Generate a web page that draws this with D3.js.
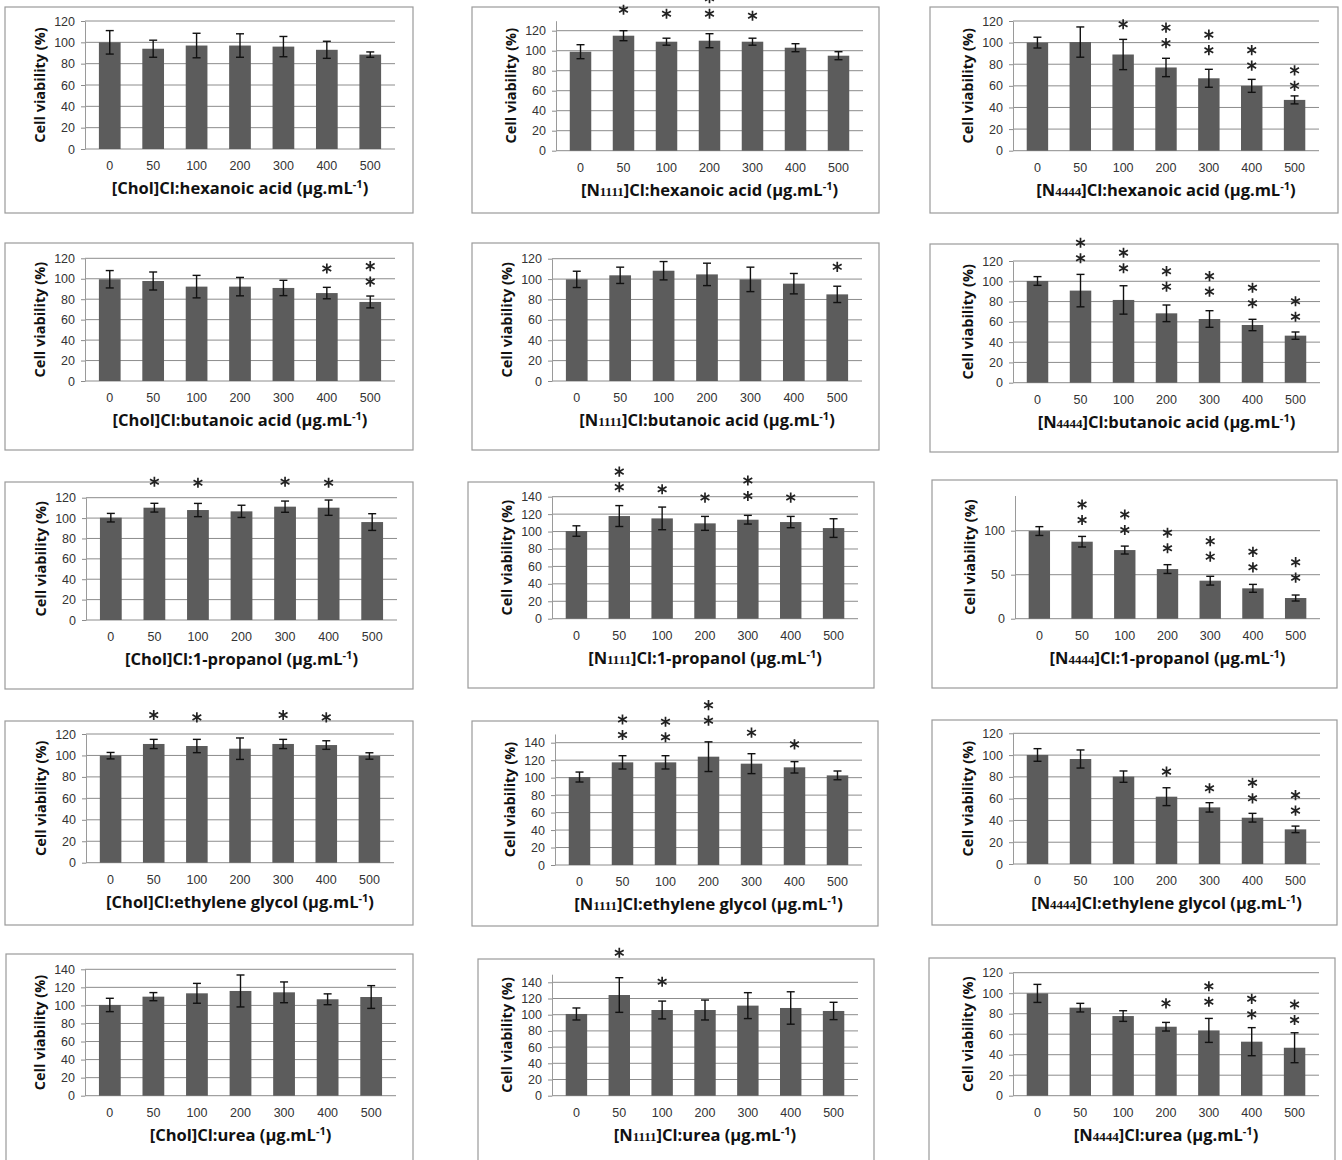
<!DOCTYPE html>
<html>
<head>
<meta charset="utf-8">
<script src="https://cdn.jsdelivr.net/npm/d3@7"></script>
<style>
  body { margin: 0; background: #fff; }
  svg { display: block; font-family: "Open Sans", "DejaVu Sans", sans-serif; }
  .tick text { font-size: 12.5px; fill: #333; }
  .xtitle, .ytitle { font-size: 16.5px; font-weight: 700; fill: #111; }
  .ytitle { font-size: 14.5px; }
  .num { font-family: "Liberation Serif", "DejaVu Serif", serif; font-size: 13px; font-weight: 700; }
  .sup { font-size: 11px; }
</style>
</head>
<body>
<svg id="chart" width="1342" height="1160"></svg>
<script>
// Concentrations tested (µg/mL)
const doses = ["0", "50", "100", "200", "300", "400", "500"];
const cations = ["Chol", "N1111", "N4444"];
const donors = ["hexanoic acid", "butanoic acid", "1-propanol", "ethylene glycol", "urea"];

// Cell viability (%) mean, standard deviation and significance marks
// Stars: [dose, number of asterisks, level of the lowest asterisk in %]
const cholHexanoicMean = [100, 94, 97, 97, 96, 93, 88.5];
const cholHexanoicSd = [11, 8, 11.5, 11, 9.5, 8, 2.5];
const cholHexanoicStars = [];

const n1111HexanoicMean = [99, 115, 109, 110, 109, 103, 95];
const n1111HexanoicSd = [7, 5, 3.5, 7, 3.5, 4, 4];
const n1111HexanoicStars = [["50", 1, 141], ["100", 1, 137], ["200", 2, 137], ["300", 1, 135]];

const n4444HexanoicMean = [100, 100.5, 89, 77, 67, 60, 47];
const n4444HexanoicSd = [5, 14, 14, 8.5, 8.3, 6, 3.7];
const n4444HexanoicStars = [["100", 1, 117], ["200", 2, 99.5], ["300", 2, 93], ["400", 2, 78.7], ["500", 2, 60]];

const cholButanoicMean = [99.5, 97.8, 92.3, 92.3, 91, 86, 77.3];
const cholButanoicSd = [8.5, 8.8, 11, 9, 7.5, 5.6, 5.8];
const cholButanoicStars = [["400", 1, 110], ["500", 2, 97.2]];

const n1111ButanoicMean = [99.7, 103.7, 108.2, 104.6, 99.7, 95.5, 85];
const n1111ButanoicSd = [8, 8, 9, 11, 12, 10, 8];
const n1111ButanoicStars = [["500", 1, 112]];

const n4444ButanoicMean = [100.3, 90.8, 81.6, 68.4, 62.8, 56.9, 46.4];
const n4444ButanoicSd = [4.3, 16, 14, 8.2, 8.2, 5.6, 3.6];
const n4444ButanoicStars = [["50", 2, 122.7], ["100", 2, 112.8], ["200", 2, 94.7], ["300", 2, 89.8], ["400", 2, 78.3], ["500", 2, 65]];

const cholPropanolMean = [100.4, 110.2, 107.9, 106.6, 111.2, 110.2, 96.1];
const cholPropanolSd = [4.2, 4.3, 6.5, 6, 5.5, 7.5, 8.2];
const cholPropanolStars = [["50", 1, 135.7], ["100", 1, 134.7], ["300", 1, 135.7], ["400", 1, 134.7]];

const n1111PropanolMean = [100.6, 117.8, 115.1, 109.4, 113.6, 110.9, 104];
const n1111PropanolSd = [6, 12, 13, 8, 5, 6.5, 10.7];
const n1111PropanolStars = [["50", 2, 151], ["100", 1, 148.5], ["200", 1, 139], ["300", 2, 140.8], ["400", 1, 139]];

const n4444PropanolMean = [99.6, 87.5, 78, 56.4, 43.2, 34.5, 23.5];
const n4444PropanolSd = [5, 6, 4.5, 5, 5, 4.5, 3.4];
const n4444PropanolStars = [["50", 2, 112.2], ["100", 2, 100.8], ["200", 2, 80], ["300", 2, 70.5], ["400", 2, 58.4], ["500", 2, 46.6]];

const cholGlycolMean = [99.8, 110.7, 108.8, 106.3, 110.7, 109.7, 99.5];
const cholGlycolSd = [3, 4.3, 6.2, 10, 4.3, 4, 3];
const cholGlycolStars = [["50", 1, 137.7], ["100", 1, 135.5], ["300", 1, 137.7], ["400", 1, 135.5]];

const n1111GlycolMean = [100.7, 117.5, 117.5, 124, 116, 111.8, 102.6];
const n1111GlycolSd = [5.7, 7.6, 7.6, 17, 11.4, 6.5, 5];
const n1111GlycolStars = [["50", 2, 148.8], ["100", 2, 146.2], ["200", 2, 165.2], ["300", 1, 151.5], ["400", 1, 138.1]];

const n4444GlycolMean = [100.1, 96.4, 80.2, 61.8, 52, 42.5, 31.8];
const n4444GlycolSd = [5.8, 8.3, 5.2, 8.2, 4.3, 4, 3];
const n4444GlycolStars = [["200", 1, 84.8], ["300", 1, 69.5], ["400", 2, 60.3], ["500", 2, 49]];

const cholUreaMean = [100.5, 109.7, 113.4, 116, 114.5, 106.8, 109.3];
const cholUreaSd = [7.4, 4.5, 11, 17.7, 11.5, 6, 12.6];
const cholUreaStars = [];

const n1111UreaMean = [100.9, 124.3, 105.8, 105.8, 111.2, 108.3, 104.6];
const n1111UreaSd = [7.4, 21.4, 11, 12.3, 16, 20, 10.7];
const n1111UreaStars = [["50", 1, 176.5], ["100", 1, 140.7]];

const n4444UreaMean = [99.8, 85.9, 77.7, 67.3, 63.7, 52.7, 46.8];
const n4444UreaSd = [8.8, 4.2, 5.2, 4.2, 11.7, 13.7, 14.6];
const n4444UreaStars = [["200", 1, 90.1], ["300", 2, 91.7], ["400", 2, 79.4], ["500", 2, 73.9]];

// Axis ranges per panel: [axis maximum, tick step]
const axisRanges = [
  [120, 20], [130, 20], [120, 20],
  [120, 20], [120, 20], [120, 20],
  [120, 20], [140, 20], [140, 50],
  [120, 20], [150, 20], [120, 20],
  [140, 20], [150, 20], [120, 20]
];

// Panel table, row by row (donor) and column by column (cation)
const series = [
  [cholHexanoicMean, cholHexanoicSd, cholHexanoicStars],
  [n1111HexanoicMean, n1111HexanoicSd, n1111HexanoicStars],
  [n4444HexanoicMean, n4444HexanoicSd, n4444HexanoicStars],
  [cholButanoicMean, cholButanoicSd, cholButanoicStars],
  [n1111ButanoicMean, n1111ButanoicSd, n1111ButanoicStars],
  [n4444ButanoicMean, n4444ButanoicSd, n4444ButanoicStars],
  [cholPropanolMean, cholPropanolSd, cholPropanolStars],
  [n1111PropanolMean, n1111PropanolSd, n1111PropanolStars],
  [n4444PropanolMean, n4444PropanolSd, n4444PropanolStars],
  [cholGlycolMean, cholGlycolSd, cholGlycolStars],
  [n1111GlycolMean, n1111GlycolSd, n1111GlycolStars],
  [n4444GlycolMean, n4444GlycolSd, n4444GlycolStars],
  [cholUreaMean, cholUreaSd, cholUreaStars],
  [n1111UreaMean, n1111UreaSd, n1111UreaStars],
  [n4444UreaMean, n4444UreaSd, n4444UreaStars]
];

// Frame geometry of each panel: outer box, plot left/right, baseline y, pixels per %
const frames = [
  { box: [5, 7, 413, 213],      left: 85,   right: 395,  base: 149,    ppu: 128 / 120 },
  { box: [472, 7, 879, 213],    left: 556,  right: 863,  base: 150.7,  ppu: 120 / 120 },
  { box: [930, 7, 1338, 213],   left: 1013, right: 1319, base: 150.7,  ppu: 129.7 / 120 },
  { box: [5, 243, 413, 450],    left: 85,   right: 395,  base: 381,    ppu: 122.7 / 120 },
  { box: [472, 243, 879, 450],  left: 552,  right: 862,  base: 381,    ppu: 122.3 / 120 },
  { box: [930, 244, 1338, 452], left: 1013, right: 1320, base: 382.7,  ppu: 121.7 / 120 },
  { box: [5, 482, 413, 689],    left: 86,   right: 397,  base: 620,    ppu: 122.3 / 120 },
  { box: [468, 482, 874, 688],  left: 552,  right: 858,  base: 618.7,  ppu: 122 / 140 },
  { box: [932, 480, 1337, 688], left: 1015, right: 1320, base: 618.7,  ppu: 88 / 100 },
  { box: [5, 721, 413, 925],    left: 86,   right: 394,  base: 862.7,  ppu: 128.7 / 120 },
  { box: [472, 721, 878, 926],  left: 555,  right: 862,  base: 865,    ppu: 122.3 / 140 },
  { box: [932, 720, 1337, 925], left: 1013, right: 1320, base: 864,    ppu: 130.7 / 120 },
  { box: [6, 954, 413, 1175],   left: 85,   right: 396,  base: 1095.7, ppu: 126.4 / 140 },
  { box: [478, 959, 874, 1175], left: 552,  right: 858,  base: 1095.7, ppu: 113.4 / 140 },
  { box: [929, 958, 1335, 1175],left: 1013, right: 1319, base: 1095.7, ppu: 123 / 120 }
];

const svg = d3.select("#chart");
const starShape = d3.symbol().type(d3.symbolAsterisk).size(72);
const starGap = 15.5;

function drawTitle(g, cation, donor, cx, y) {
  const t = g.append("text").attr("class", "xtitle")
    .attr("x", cx).attr("y", y).attr("text-anchor", "middle");
  if (cation === "Chol") {
    t.append("tspan").text("[Chol]");
  } else {
    t.append("tspan").text("[N");
    t.append("tspan").attr("class", "num").text(cation.slice(1));
    t.append("tspan").text("]");
  }
  t.append("tspan").text("Cl:" + donor + " (\u00b5g.mL");
  t.append("tspan").attr("class", "sup").attr("dy", -6).text("-1");
  t.append("tspan").attr("dy", 6).text(")");
}

series.forEach(([mean, sd, stars], i) => {
  const f = frames[i];
  const [axisMax, step] = axisRanges[i];
  const cation = cations[i % 3];
  const donor = donors[Math.floor(i / 3)];
  const g = svg.append("g");

  // outer frame
  g.append("rect")
    .attr("x", f.box[0]).attr("y", f.box[1])
    .attr("width", f.box[2] - f.box[0]).attr("height", f.box[3] - f.box[1])
    .attr("fill", "#fff").attr("stroke", "#9a9a9a").attr("stroke-width", 1.2);

  const y = d3.scaleLinear().domain([0, axisMax]).range([f.base, f.base - axisMax * f.ppu]);
  const x = d3.scaleBand().domain(doses).range([f.left, f.right]).paddingInner(0.5).paddingOuter(0.32);
  const ticks = d3.range(0, axisMax + 1e-6, step);

  // horizontal gridlines
  g.append("g").selectAll("line").data(ticks).join("line")
    .attr("x1", f.left).attr("x2", f.right)
    .attr("y1", d => y(d)).attr("y2", d => y(d))
    .attr("stroke", "#8c8c8c").attr("stroke-width", 1);

  // y axis
  const ya = g.append("g").attr("transform", `translate(${f.left},0)`)
    .call(d3.axisLeft(y).tickValues(ticks).tickSize(4).tickSizeOuter(0).tickPadding(6));
  ya.select(".domain").attr("stroke", "#9a9a9a");
  ya.selectAll(".tick line").attr("stroke", "#8c8c8c");

  // x axis labels
  const xa = g.append("g").attr("transform", `translate(0,${f.base})`)
    .call(d3.axisBottom(x).tickSize(0).tickPadding(12));
  xa.select(".domain").remove();

  // bars
  g.append("g").selectAll("rect").data(mean).join("rect")
    .attr("x", (d, k) => x(doses[k]))
    .attr("y", d => y(d))
    .attr("width", x.bandwidth())
    .attr("height", d => y(0) - y(d))
    .attr("fill", "#5c5c5c");

  // error bars
  const eb = g.append("g").attr("stroke", "#111").attr("stroke-width", 1.4);
  mean.forEach((m, k) => {
    const cx = x(doses[k]) + x.bandwidth() / 2;
    const lo = y(m - sd[k]), hi = y(m + sd[k]);
    eb.append("line").attr("x1", cx).attr("x2", cx).attr("y1", lo).attr("y2", hi);
    eb.append("line").attr("x1", cx - 4).attr("x2", cx + 4).attr("y1", lo).attr("y2", lo);
    eb.append("line").attr("x1", cx - 4).attr("x2", cx + 4).attr("y1", hi).attr("y2", hi);
  });

  // significance asterisks
  const sg = g.append("g").attr("fill", "none").attr("stroke", "#222").attr("stroke-width", 1.7);
  stars.forEach(([dose, count, level]) => {
    const cx = x(dose) + x.bandwidth() / 2;
    for (let k = 0; k < count; k++) {
      sg.append("path").attr("d", starShape)
        .attr("transform", `translate(${cx},${y(level) - k * starGap})`);
    }
  });

  // axis titles
  const top = y(axisMax);
  g.append("text").attr("class", "ytitle")
    .attr("transform", `translate(${f.left - 45},${(top + f.base) / 2}) rotate(-90)`)
    .attr("text-anchor", "middle").attr("dy", "0.35em")
    .text("Cell viability (%)");
  drawTitle(g, cation, donor, (f.left + f.right) / 2, f.base + 45);
});
</script>
</body>
</html>
